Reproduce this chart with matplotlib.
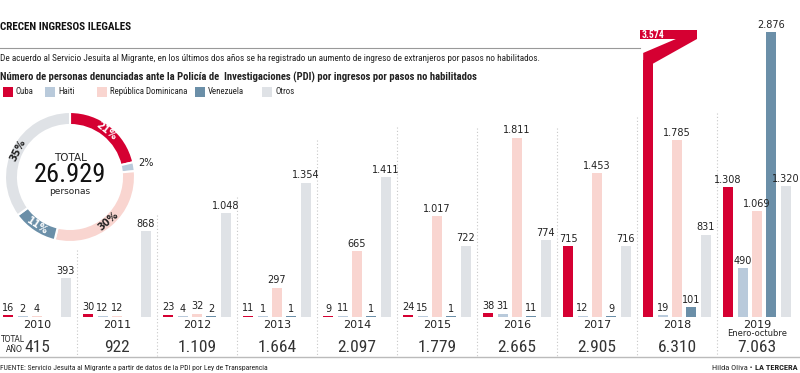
import numpy as np
import matplotlib.pyplot as plt
from matplotlib.patches import Rectangle, Polygon
import matplotlib.transforms as mtransforms

# datos: personas denunciadas por ingreso por pasos no habilitados
years = ['2010', '2011', '2012', '2013', '2014', '2015', '2016', '2017', '2018', '2019']
cuba = [16, 30, 23, 11, 9, 24, 38, 715, 3574, 1308]
haiti = [2, 12, 4, 1, 11, 15, 31, 12, 19, 490]
dominicana = [4, 12, 32, 297, 665, 1017, 1811, 1453, 1785, 1069]
venezuela = [0, 0, 2, 1, 1, 1, 11, 9, 101, 2876]
otros = [393, 868, 1048, 1354, 1411, 722, 774, 716, 831, 1320]
paises = ['Cuba', 'Haiti', 'República Dominicana', 'Venezuela', 'Otros']
colores = ['#d50032', '#b9cadb', '#f9d5d0', '#6b8fa8', '#dfe2e6']

series = [cuba, haiti, dominicana, venezuela, otros]
tot_anio = [sum(s[i] for s in series) for i in range(len(years))]
tot_pais = [sum(s) for s in series]

NARROW = ['Liberation Sans Narrow', 'Roboto Condensed', 'DejaVu Sans']
TXT = '#222222'


def fmt(v):
    return f'{v:,}'.replace(',', '.')


W, H = 800, 373
BASE = 317          # baseline, pixels from top
UPP = 10.1          # units per pixel
fig = plt.figure(figsize=(W / 100, H / 100), dpi=100)
ax = fig.add_axes([0, 0, 1, 1])
ax.axis('off')
ax.set_xlim(-37 / 80, (W - 37) / 80)
ax.set_ylim(-(H - BASE) * UPP, BASE * UPP)
tr = mtransforms.blended_transform_factory(ax.transData, ax.transAxes)


def fy(py):
    return 1 - py / H


x = np.arange(len(years))
step, bw = 0.18, 0.125
cap = 3000  # Cuba 2018 is drawn broken

for k, (s, c) in enumerate(zip(series, colores)):
    pos = x + (k - 2) * step
    for xi, v, yr in zip(pos, s, years):
        if v == 0:
            continue
        if v > cap:
            ax.bar(xi, 2600, bw, color=c, linewidth=0)
            xl, xr = xi - bw / 2, xi + bw / 2
            xend = xi + 0.61
            ax.add_patch(Polygon([(xl, 2560), (xl, 2667), (xend, 2899), (xend, 2808), (xr, 2560)],
                                 closed=True, color=c, lw=0))
            ax.add_patch(Rectangle((xi - 0.1, 2808), xend - xi + 0.1, 91, color=c, lw=0))
            ax.text(xi - 0.085, 2853, fmt(v), color='white', fontsize=7, fontweight='bold',
                    ha='left', va='center', family=NARROW)
            continue
        ax.bar(xi, max(v, 7), bw, color=c, linewidth=0)
        ax.text(xi, v + 25, fmt(v), color=TXT, fontsize=7, ha='center', va='bottom')

# separadores punteados
sep_top = [250, 215, 197, 140, 127, 128, 128, 117, 113]
for i, t in enumerate(sep_top):
    ax.plot([i + 0.5, i + 0.5], [fy(t), fy(356)], transform=tr, color='#c8c8c8',
            lw=0.8, ls=(0, (1, 2)))

for i, yr in enumerate(years):
    ax.text(i, fy(325), yr, transform=tr, ha='center', va='center', fontsize=8, color=TXT)
    ax.text(i, fy(347.5), fmt(tot_anio[i]), transform=tr, ha='center', va='center',
            fontsize=12.5, color='#333333', family=NARROW)
ax.text(9, fy(334), 'Enero-octubre', transform=tr, ha='center', va='center', fontsize=6, color=TXT)
fig.text(1 / W, fy(339), 'TOTAL', fontsize=5.5, color=TXT, va='center')
fig.text(6 / W, fy(349), 'AÑO', fontsize=5.5, color=TXT, va='center')
ax.plot([0, 1], [fy(357), fy(357)], transform=ax.transAxes, color='#bbbbbb', lw=1)

# encabezado
fig.text(0, fy(27), 'CRECEN INGRESOS ILEGALES', fontsize=8, fontweight='bold', color='#111111',
         va='center', family=NARROW)
ax.plot([0, 640 / W], [fy(48), fy(48)], transform=ax.transAxes, color='#999999', lw=0.8)
fig.text(0, fy(58), 'De acuerdo al Servicio Jesuita al Migrante, en los últimos dos años se ha registrado '
         'un aumento de ingreso de extranjeros por pasos no habilitados.',
         fontsize=6.7, color=TXT, va='center', family=NARROW)
fig.text(0, fy(77), 'Número de personas denunciadas ante la Policía de  Investigaciones (PDI) '
         'por ingresos por pasos no habilitados', fontsize=7.7, fontweight='bold', color=TXT,
         va='center', family=NARROW)
leg_x = [3, 45, 97, 195, 262]
for lx, p, c in zip(leg_x, paises, colores):
    fig.patches.append(Rectangle((lx / W, fy(97)), 10 / W, 10 / H, color=c, lw=0,
                                 transform=fig.transFigure))
    fig.text((lx + 13) / W, fy(92), p, fontsize=6.4, color=TXT, va='center', family=NARROW)

# pie de pagina
fig.text(0, fy(368), 'FUENTE: Servicio Jesuita al Migrante a partir de datos de la PDI por Ley de Transparencia',
         fontsize=5.5, color=TXT, va='center', family=NARROW)
fig.text(752 / W, fy(368), 'Hilda Oliva •', fontsize=6, color=TXT, va='center', ha='right', family=NARROW)
fig.text(798 / W, fy(368), 'LA TERCERA', fontsize=6, fontweight='bold', color=TXT, va='center',
         ha='right', family=NARROW)

# dona con el total
ax2 = fig.add_axes([5 / W, 131 / H, 130 / W, 130 / H])
ax2.pie(tot_pais, colors=colores, startangle=90, counterclock=False, radius=1,
        wedgeprops=dict(width=0.2, edgecolor='white', linewidth=1.5))
ax2.set_xlim(-1, 1)
ax2.set_ylim(-1, 1)
total = sum(tot_pais)
cum = 0
for v, c, p in zip(tot_pais, colores, paises):
    frac = v / total
    ang = np.deg2rad(90 - 360 * (cum + v / 2) / total)
    cum += v
    lbl = f'{round(frac * 100)}%'
    if p == 'Haiti':
        ax2.text(1.07 * np.cos(ang), 1.07 * np.sin(ang) + 0.05, lbl, fontsize=7, color=TXT,
                 ha='left', va='center')
        continue
    rot = ((np.rad2deg(ang) - 90 + 90) % 180) - 90
    col = 'white' if p in ('Cuba', 'Venezuela') else TXT
    ax2.text(0.9 * np.cos(ang), 0.9 * np.sin(ang), lbl, fontsize=7, color=col, rotation=rot,
             rotation_mode='anchor', ha='center', va='center', fontweight='bold')
ax2.text(0, 0.29, 'TOTAL', fontsize=7.5, color=TXT, ha='center', va='center')
ax2.text(0, 0.03, fmt(total), fontsize=19, color='#111111', ha='center', va='center', family=NARROW)
ax2.text(0, -0.23, 'personas', fontsize=6.5, color=TXT, ha='center', va='center')

fig.savefig('out.png', dpi=100)
